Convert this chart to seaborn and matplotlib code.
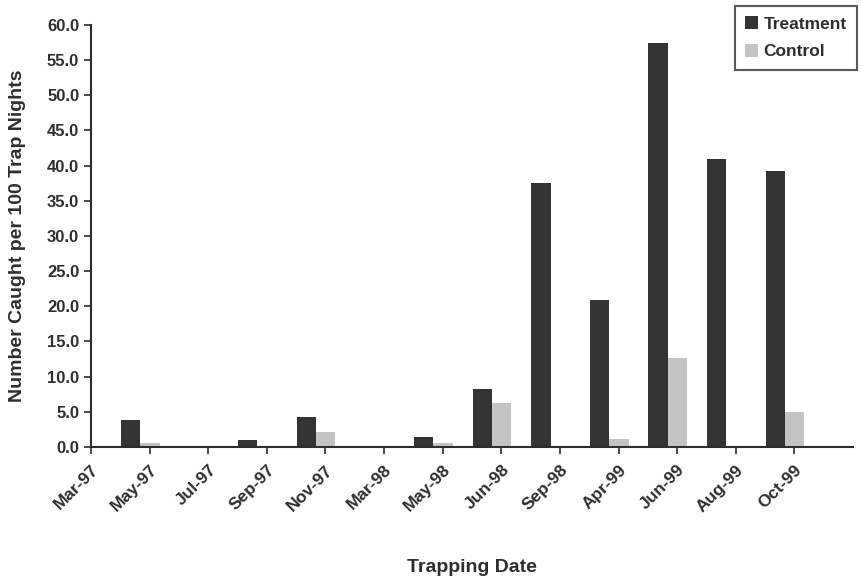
import pandas as pd
import seaborn as sns
import matplotlib.pyplot as plt
import numpy as np

dates = ['Mar-97', 'May-97', 'Jul-97', 'Sep-97', 'Nov-97', 'Mar-98', 'May-98',
         'Jun-98', 'Sep-98', 'Apr-99', 'Jun-99', 'Aug-99', 'Oct-99']
treatment = [0.0, 3.9, 0.0, 1.0, 4.2, 0.0, 1.4, 8.2, 37.5, 20.9, 57.4, 41.0, 39.2]
control = [0.0, 0.5, 0.0, 0.0, 2.1, 0.0, 0.6, 6.2, 0.0, 1.2, 12.7, 0.0, 5.0]
groups = ['Treatment', 'Control']
colors = ['#333333', '#c4c4c4']

df = pd.DataFrame({'date': dates * 2,
                   'group': ['Treatment'] * len(dates) + ['Control'] * len(dates),
                   'value': treatment + control})

sns.set_style('white')
plt.rcParams['font.family'] = ['Liberation Sans', 'DejaVu Sans']
plt.rcParams['font.weight'] = 'bold'
dark = '#2e2e2e'

fig = plt.figure(figsize=(8.62, 5.77), dpi=100)
ax = fig.add_axes([0.1056, 0.2253, 0.884, 0.7314])

sns.barplot(data=df, x='date', y='value', hue='group', order=dates,
            hue_order=groups, palette=colors, width=0.66, saturation=1,
            edgecolor='none', errorbar=None, ax=ax)

# labels sit a bit to the right of the bar groups, as in the original
off = 0.16
ax.set_xlim(off, len(dates) + off)
ax.set_xticks(np.arange(len(dates)) + off)
ax.set_xticklabels(dates, rotation=45, ha='right', rotation_mode='anchor',
                   fontsize=12.5, fontweight='bold', color=dark)
ax.set_ylim(0, 60)
ax.set_yticks(np.arange(0, 60.1, 5))
ax.set_yticklabels(['{:.1f}'.format(v) for v in np.arange(0, 60.1, 5)],
                   fontsize=12, fontweight='bold', color=dark)

ax.tick_params(axis='both', direction='out', length=5, width=1.2, color=dark,
               bottom=True, left=True)
ax.tick_params(axis='x', pad=6)
for s in ['top', 'right']:
    ax.spines[s].set_visible(False)
for s in ['left', 'bottom']:
    ax.spines[s].set_color(dark)
    ax.spines[s].set_linewidth(1.5)

ax.set_xlabel('Trapping Date', fontsize=14, fontweight='bold', color=dark, labelpad=32)
ax.set_ylabel('Number Caught per 100 Trap Nights', fontsize=14, fontweight='bold',
              color=dark, labelpad=15)

leg = ax.legend(loc='upper right', bbox_to_anchor=(0.9942, 0.9896),
                bbox_transform=fig.transFigure, borderaxespad=0,
                frameon=True, fancybox=False,
                handlelength=0.75, handleheight=0.75, handletextpad=0.3,
                borderpad=0.6, labelspacing=0.7,
                prop={'weight': 'bold', 'size': 12.5})
leg.get_frame().set_edgecolor(dark)
leg.get_frame().set_linewidth(1.5)
for t in leg.get_texts():
    t.set_color(dark)

fig.savefig('out.png', dpi=100)
